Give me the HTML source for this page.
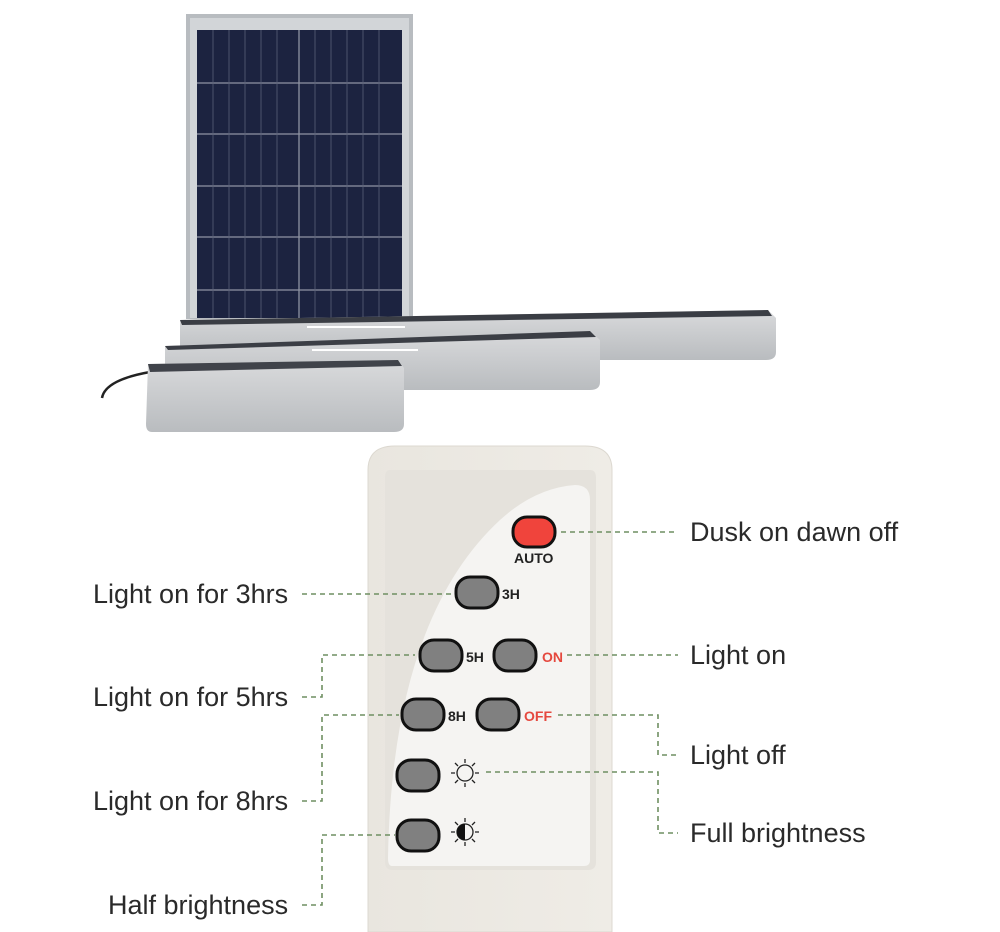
<!DOCTYPE html>
<html><head><meta charset="utf-8"><style>
html,body{margin:0;padding:0;background:#fff;}
svg{display:block;}
.lb{font-family:"Liberation Sans",sans-serif;font-size:27px;fill:#2a2a2a;}
.bt{font-family:"Liberation Sans",sans-serif;font-weight:bold;font-size:14px;}
.d{stroke:#6f8f62;stroke-width:1.6;stroke-dasharray:5 4;fill:none;}
</style></head><body>
<svg width="1000" height="932" viewBox="0 0 1000 932" xmlns="http://www.w3.org/2000/svg">
<defs>
<linearGradient id="bar" x1="0" y1="0" x2="0" y2="1"><stop offset="0" stop-color="#d9dadc"/><stop offset="1" stop-color="#b9bcbf"/></linearGradient>
<linearGradient id="rem" x1="0" y1="0" x2="1" y2="0"><stop offset="0" stop-color="#e9e6df"/><stop offset="1" stop-color="#efece6"/></linearGradient>
</defs>
<rect x="186" y="14" width="227" height="305" fill="#b8bcc0"/>
<rect x="190" y="18" width="219" height="300" fill="#d2d5d8"/>
<rect x="197" y="30" width="205" height="288" fill="#1c2340"/>
<g stroke="#8e93a2" stroke-width="1.3">
<line x1="197" y1="83" x2="402" y2="83"/><line x1="197" y1="134" x2="402" y2="134"/>
<line x1="197" y1="186" x2="402" y2="186"/><line x1="197" y1="237" x2="402" y2="237"/>
<line x1="197" y1="290" x2="402" y2="290"/>
<line x1="299" y1="30" x2="299" y2="318"/>
</g>
<g stroke="#5a6078" stroke-width="0.8">
<line x1="213" y1="30" x2="213" y2="318"/><line x1="229" y1="30" x2="229" y2="318"/><line x1="245" y1="30" x2="245" y2="318"/>
<line x1="261" y1="30" x2="261" y2="318"/><line x1="277" y1="30" x2="277" y2="318"/><line x1="315" y1="30" x2="315" y2="318"/>
<line x1="331" y1="30" x2="331" y2="318"/><line x1="347" y1="30" x2="347" y2="318"/><line x1="363" y1="30" x2="363" y2="318"/>
<line x1="379" y1="30" x2="379" y2="318"/>
</g>
<path d="M180 320 L768 310 L776 318 L776 352 Q776 360 766 360 L180 360 Z" fill="url(#bar)"/>
<path d="M180 320 L768 310 L772 316 L182 325 Z" fill="#3a3d44"/>
<line x1="307" y1="327" x2="405" y2="327" stroke="#fff" stroke-width="2"/>
<path d="M165 346 L590 331 L600 340 L600 382 Q600 390 590 390 L165 390 Z" fill="url(#bar)"/>
<path d="M165 346 L590 331 L596 337 L168 350 Z" fill="#3b3e45"/>
<line x1="312" y1="350" x2="418" y2="350" stroke="#fff" stroke-width="2"/>
<path d="M102 398 Q105 380 150 372" stroke="#222" stroke-width="2.5" fill="none"/>
<path d="M148 364 L398 360 L404 368 L404 424 Q404 432 394 432 L152 432 Q146 432 146 424 Z" fill="url(#bar)"/>
<path d="M148 364 L398 360 L402 366 L150 372 Z" fill="#40434a"/>
<path d="M368 932 L368 470 Q368 446 395 446 L585 446 Q612 446 612 470 L612 932 Z" fill="url(#rem)" stroke="#dcd8d0"/>
<path d="M390 470 L590 470 Q596 470 596 478 L596 862 Q596 870 588 870 L393 870 Q385 870 385 862 L385 478 Q385 470 390 470Z" fill="#e5e2dc"/>
<path d="M575 485 Q590 485 590 500 L590 860 Q590 866 584 866 L392 866 Q388 866 388 858 Q392 620 500 520 Q535 488 575 485 Z" fill="#f5f4f2"/>
<g stroke="#111" stroke-width="3">
<rect x="513" y="517" width="42" height="30" rx="14" fill="#f0443c"/>
<rect x="456" y="577" width="42" height="31" rx="14" fill="#808080"/>
<rect x="420" y="640" width="42" height="31" rx="14" fill="#808080"/>
<rect x="494" y="640" width="42" height="31" rx="14" fill="#808080"/>
<rect x="402" y="699" width="42" height="31" rx="14" fill="#808080"/>
<rect x="477" y="699" width="42" height="31" rx="14" fill="#808080"/>
<rect x="397" y="760" width="42" height="31" rx="14" fill="#808080"/>
<rect x="397" y="820" width="42" height="31" rx="14" fill="#808080"/>
</g>
<text class="bt" x="514" y="563" fill="#222">AUTO</text>
<text class="bt" x="502" y="599" fill="#222">3H</text>
<text class="bt" x="466" y="662" fill="#222">5H</text>
<text class="bt" x="542" y="662" fill="#e5483e">ON</text>
<text class="bt" x="448" y="721" fill="#222">8H</text>
<text class="bt" x="524" y="721" fill="#e5483e">OFF</text>
<g stroke="#222" stroke-width="1.3" fill="none">
<circle cx="465" cy="773" r="8"/>
<path d="M465 759v4M465 783v4M451 773h4M475 773h4M455 763l3 3M472 780l3 3M475 763l-3 3M458 780l-3 3"/>
<circle cx="465" cy="832" r="8"/>
<path d="M465 818v4M465 842v4M451 832h4M475 832h4M455 822l3 3M472 839l3 3M475 822l-3 3M458 839l-3 3"/>
</g>
<path d="M465 824 A8 8 0 0 0 465 840 Z" fill="#111"/>
<path class="d" d="M561 532 H678"/>
<path class="d" d="M302 594 H455"/>
<path class="d" d="M567 655 H678"/>
<path class="d" d="M302 697 H322 V655 H415"/>
<path class="d" d="M558 715 H658 V755 H678"/>
<path class="d" d="M302 801 H322 V715 H399"/>
<path class="d" d="M486 772 H658 V833 H678"/>
<path class="d" d="M302 905 H322 V835 H395"/>
<text class="lb" x="690" y="541">Dusk on dawn off</text>
<text class="lb" x="93" y="603">Light on for 3hrs</text>
<text class="lb" x="690" y="664">Light on</text>
<text class="lb" x="93" y="706">Light on for 5hrs</text>
<text class="lb" x="690" y="764">Light off</text>
<text class="lb" x="93" y="810">Light on for 8hrs</text>
<text class="lb" x="690" y="842">Full brightness</text>
<text class="lb" x="108" y="914">Half brightness</text>
</svg>
</body></html>
